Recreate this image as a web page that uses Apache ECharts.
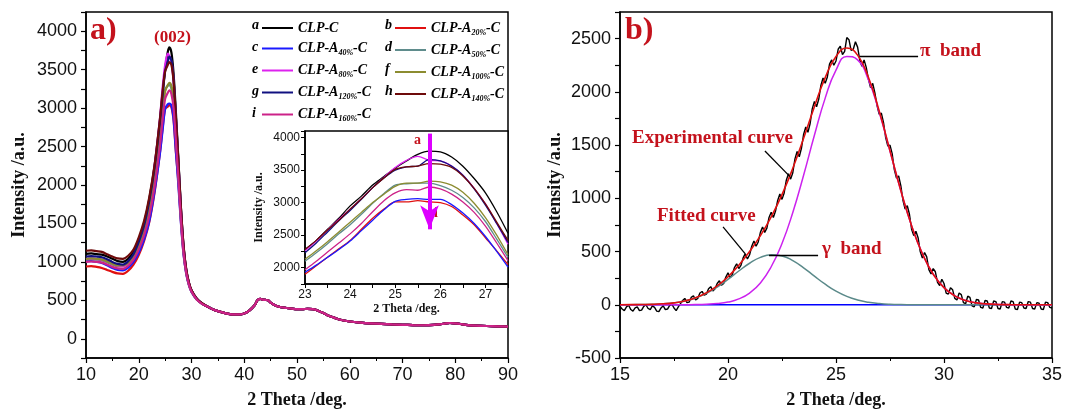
<!DOCTYPE html>
<html><head><meta charset="utf-8">
<script src="https://cdn.jsdelivr.net/npm/echarts@6/dist/echarts.min.js"></script>
<style>html,body{margin:0;padding:0;background:#fff}#c{width:1069px;height:414px}</style>
</head><body><div id="c"></div>
<script>
// ---------- Panel a data ----------
const seriesLetters = ['a','b','c','d','e','f','g','h','i'];
const seriesNames = ['CLP-C','CLP-A20%-C','CLP-A40%-C','CLP-A50%-C','CLP-A80%-C','CLP-A100%-C','CLP-A120%-C','CLP-A140%-C','CLP-A160%-C'];
const seriesColors = ['#000000','#e01010','#1a1aff','#5f8c8c','#dd22ee','#8c8c30','#101080','#6e0a0a','#cc2288'];

const xHead = [10,11,12,13,14,15,16,17,18,19,20,21,22,23,24,24.5,25,25.5,25.8,26.2,26.6,27,27.5,28,28.5,29,29.5,30,31,32];
const headA = [1105,1110,1100,1095,1070,1040,1010,1000,1040,1130,1290,1500,1820,2250,2830,3180,3500,3730,3790,3720,3450,3000,2350,1700,1200,900,730,630,520,460];
const headB = [940,945,935,920,895,870,850,845,885,965,1090,1270,1520,1900,2410,2720,2990,3020,3040,3010,2840,2460,2050,1520,1100,850,702,612,511,455];
const headC = [1010,1010,1000,985,955,920,895,890,925,1000,1120,1290,1530,1920,2400,2700,2990,3050,3060,3030,2860,2480,2010,1500,1090,845,700,610,510,454];
const headD = [1030,1035,1030,1020,995,965,945,945,985,1065,1200,1390,1670,2080,2620,2950,3240,3290,3300,3250,3070,2690,2150,1580,1140,870,712,618,514,456];
const headE = [1040,1045,1040,1030,1010,980,950,940,985,1080,1240,1460,1790,2250,2850,3250,3560,3710,3680,3600,3350,2900,2300,1660,1180,890,725,625,518,458];
const headF = [1040,1045,1040,1030,1005,975,955,955,990,1070,1210,1400,1680,2100,2640,2950,3220,3300,3330,3290,3120,2750,2200,1610,1150,875,715,620,515,457];
const headG = [1070,1075,1070,1060,1035,1000,975,965,1010,1100,1260,1470,1790,2220,2800,3150,3480,3600,3670,3620,3380,2930,2320,1680,1190,895,728,628,520,460];
const headH = [1145,1150,1140,1130,1100,1070,1045,1040,1080,1160,1320,1530,1840,2260,2850,3200,3480,3560,3600,3560,3350,2930,2330,1700,1210,905,735,632,522,462];
const headI = [1000,1005,1000,990,965,935,915,910,950,1030,1160,1340,1600,1980,2500,2830,3120,3200,3230,3180,3000,2620,2100,1550,1120,860,708,615,512,455];

const xTail = [33,34,35,36,37,38,39,40,41,42,42.5,43,43.5,44,44.5,45,46,47,48,49,50,51,52,53,54,55,56,57,58,60,62,64,66,68,70,72,74,76,77,78,79,80,81,82,84,86,88,90];
const tailVals = [420,385,360,340,325,318,318,330,370,440,500,520,510,505,500,470,430,410,400,392,385,385,390,385,365,335,300,275,250,225,210,200,195,188,182,178,176,180,188,198,205,200,192,182,172,166,162,158];

// inset (zoom of the (002) peak)
const insetX = [23,23.25,23.5,23.75,24,24.25,24.5,24.75,25,25.25,25.5,25.75,26,26.25,26.5,26.75,27,27.25,27.5];
const insA = [2280,2420,2590,2760,2950,3100,3270,3400,3530,3640,3740,3790,3780,3700,3560,3370,3150,2860,2530];
const insB = [1900,2030,2160,2290,2420,2590,2760,2900,3010,3010,3030,3010,3000,2940,2810,2660,2460,2260,2050];
const insC = [1930,2040,2160,2280,2410,2570,2730,2890,3020,3050,3060,3050,3050,2970,2840,2680,2480,2250,2010];
const insD = [2100,2230,2370,2520,2660,2820,2990,3140,3270,3290,3300,3300,3260,3190,3080,2920,2710,2440,2160];
const insE = [2260,2410,2580,2740,2900,3060,3230,3390,3540,3650,3710,3650,3640,3560,3420,3220,2980,2680,2360];
const insF = [2130,2260,2400,2550,2700,2850,3000,3130,3250,3300,3300,3330,3320,3270,3160,2990,2770,2500,2200];
const insG = [2230,2380,2550,2720,2880,3050,3230,3380,3500,3550,3560,3660,3640,3560,3420,3210,2960,2680,2390];
const insH = [2280,2420,2580,2730,2900,3060,3230,3380,3510,3550,3560,3600,3590,3540,3410,3220,2980,2700,2420];
const insI = [1970,2100,2240,2380,2520,2680,2860,3030,3150,3200,3190,3240,3210,3130,3010,2850,2640,2380,2110];

// ---------- Panel b data ----------
const bX = [15,15.5,16,16.5,17,17.5,18,18.5,19,19.5,20,20.5,21,21.5,22,22.5,23,23.5,24,24.5,25,25.5,26,26.5,27,27.5,28,28.5,29,29.5,30,30.5,31,31.5,32,32.5,33,33.5,34,34.5,35];
const piBand = [0,0,0,0,0,0,1,2,5,11,25,55,110,204,357,576,867,1217,1592,1941,2204,2333,2300,2113,1808,1442,1072,742,479,287,161,84,41,18,8,3,1,0,0,0,0];
const gammaBand = [0,1,2,4,9,18,35,64,107,166,238,317,390,445,469,459,415,347,269,193,128,79,45,24,12,5,2,1,0,0,0,0,0,0,0,0,0,0,0,0,0];
const fitted = [0,1,2,4,9,18,36,65,112,177,263,372,500,649,826,1035,1282,1564,1861,2134,2332,2412,2345,2137,1820,1447,1074,743,479,287,161,84,41,18,8,3,1,0,0,0,0];
const expX = [15,15.1,15.2,15.3,15.4,15.5,15.6,15.7,15.8,15.9,16,16.1,16.2,16.3,16.4,16.5,16.6,16.7,16.8,16.9,
  17,17.1,17.2,17.3,17.4,17.5,17.6,17.7,17.8,17.9,18,18.1,18.2,18.3,18.4,18.5,18.6,18.7,18.8,18.9,
  19,19.1,19.2,19.3,19.4,19.5,19.6,19.7,19.8,19.9,20,20.1,20.2,20.3,20.4,20.5,20.6,20.7,20.8,20.9,
  21,21.1,21.2,21.3,21.4,21.5,21.6,21.7,21.8,21.9,22,22.1,22.2,22.3,22.4,22.5,22.6,22.7,22.8,22.9,
  23,23.1,23.2,23.3,23.4,23.5,23.6,23.7,23.8,23.9,24,24.1,24.2,24.3,24.4,24.5,24.6,24.7,24.8,24.9,
  25,25.1,25.2,25.3,25.4,25.5,25.6,25.7,25.8,25.9,26,26.1,26.2,26.3,26.4,26.5,26.6,26.7,26.8,26.9,
  27,27.1,27.2,27.3,27.4,27.5,27.6,27.7,27.8,27.9,28,28.1,28.2,28.3,28.4,28.5,28.6,28.7,28.8,28.9,
  29,29.1,29.2,29.3,29.4,29.5,29.6,29.7,29.8,29.9,30,30.1,30.2,30.3,30.4,30.5,30.6,30.7,30.8,30.9,
  31,31.1,31.2,31.3,31.4,31.5,31.6,31.7,31.8,31.9,32,32.1,32.2,32.3,32.4,32.5,32.6,32.7,32.8,32.9,
  33,33.1,33.2,33.3,33.4,33.5,33.6,33.7,33.8,33.9,34,34.1,34.2,34.3,34.4,34.5,34.6,34.7,34.8,34.9,35];
const expY = [-15,-40,-55,-20,-5,-45,-60,-30,-20,-55,-50,-15,0,-35,-45,-10,-25,-60,-65,-30,
  -10,-45,-40,-5,5,-30,-55,-20,10,40,60,20,25,70,85,45,60,110,125,90,
  100,150,170,130,150,200,225,185,200,260,300,255,285,350,385,340,370,440,480,430,
  470,550,600,550,590,680,730,680,720,820,870,820,880,980,1040,990,1050,1170,1230,1180,
  1240,1370,1440,1390,1470,1600,1670,1620,1700,1840,1910,1860,1930,2060,2130,2080,2140,2260,2300,2250,
  2290,2400,2430,2350,2380,2510,2490,2390,2400,2470,2420,2300,2240,2300,2230,2120,2040,2080,1990,1870,
  1790,1800,1710,1570,1490,1500,1420,1270,1190,1210,1120,980,900,930,850,710,650,690,630,500,
  440,490,450,330,290,340,310,210,180,240,200,110,100,160,140,60,45,110,95,20,
  10,80,70,-10,-20,50,45,-25,-30,40,35,-30,-35,35,30,-35,-40,30,25,-25,
  -30,35,30,-40,-45,25,20,-30,-35,30,25,-35,-40,20,15,-40,-45,25,20,-25,-30];
const baseX = [15,35];
const baseY = [0,0];

// ---------- helpers ----------
const SERIF = '"Liberation Serif","DejaVu Serif",serif';
const SANS = '"Liberation Sans",Arial,sans-serif';
const RED = '#c4121c';
const zip = (xs, ys) => xs.map((x, i) => [x, ys[i]]);
const heads = [headA,headB,headC,headD,headE,headF,headG,headH,headI];
const insets = [insA,insB,insC,insD,insE,insF,insG,insH,insI];
const xMain = xHead.concat(xTail);

function yFmt(lo, hi) { return v => (v % 500 === 0 && v >= lo && v <= hi) ? String(v) : ''; }

function axisCommon(fs) {
  return {
    axisLine: { show: true, onZero: false, lineStyle: { color: '#000', width: 1.5 } },
    axisTick: { show: true, inside: false, length: 5, lineStyle: { color: '#000', width: 1.2 } },
    splitLine: { show: false },
    axisLabel: { color: '#111', fontFamily: SANS, fontSize: fs },
    nameTextStyle: { fontFamily: SERIF, fontWeight: 'bold', color: '#111', fontSize: fs }
  };
}

const series = [];
heads.forEach((h, k) => {
  series.push({ type: 'line', name: seriesNames[k], xAxisIndex: 0, yAxisIndex: 0, showSymbol: false, smooth: 0.3,
    data: zip(xMain, h.concat(tailVals)), lineStyle: { color: seriesColors[k], width: 2.2 }, itemStyle: { color: seriesColors[k] } });
});
insets.forEach((d, k) => {
  series.push({ type: 'line', name: seriesNames[k], xAxisIndex: 1, yAxisIndex: 1, showSymbol: false, smooth: 0.3,
    data: zip(insetX, d), lineStyle: { color: seriesColors[k], width: 1.3 }, itemStyle: { color: seriesColors[k] },
    markLine: k === 0 ? { silent: true, symbol: ['none', 'arrow'], symbolSize: [14, 24],
      lineStyle: { color: '#dd00ff', width: 4, type: 'solid' }, label: { show: false },
      data: [[{ coord: [25.76, 4060] }, { coord: [25.76, 2590] }]] } : undefined });
});
series.push({ type: 'line', name: 'base', xAxisIndex: 2, yAxisIndex: 2, showSymbol: false, data: zip(baseX, baseY), lineStyle: { color: '#0000ff', width: 1.5 } });
series.push({ type: 'line', name: 'exp', xAxisIndex: 2, yAxisIndex: 2, showSymbol: false, data: zip(expX, expY), lineStyle: { color: '#000', width: 1.4 },
  markLine: { silent: true, symbol: 'none', label: { show: false }, lineStyle: { color: '#000', width: 1.3, type: 'solid' },
    data: [
      [{ coord: [21.71, 1444] }, { coord: [22.87, 1204] }],
      [{ coord: [19.77, 731] }, { coord: [20.79, 481] }],
      [{ coord: [21.9, 463] }, { coord: [24.17, 463] }],
      [{ coord: [26.11, 2333] }, { coord: [28.8, 2333] }]
    ] } });
series.push({ type: 'line', name: 'gamma', xAxisIndex: 2, yAxisIndex: 2, showSymbol: false, smooth: true, data: zip(bX, gammaBand), lineStyle: { color: '#5b8a8a', width: 1.5 } });
series.push({ type: 'line', name: 'pi', xAxisIndex: 2, yAxisIndex: 2, showSymbol: false, smooth: true, data: zip(bX, piBand), lineStyle: { color: '#cc22ee', width: 1.5 } });
series.push({ type: 'line', name: 'fit', xAxisIndex: 2, yAxisIndex: 2, showSymbol: false, smooth: true, data: zip(bX, fitted), lineStyle: { color: '#e01010', width: 1.6 } });

function legendFmt(name) {
  const m = name.match(/^CLP-A(\d+%)-C$/);
  if (!m) return '{n|' + name + '}';
  return '{n|CLP-A}{s|' + m[1] + '}{n|-C}';
}
const legendText = {
  rich: {
    n: { fontFamily: SERIF, fontStyle: 'italic', fontWeight: 'bold', fontSize: 14, color: '#000' },
    s: { fontFamily: SERIF, fontStyle: 'italic', fontWeight: 'bold', fontSize: 8, color: '#000', padding: [9, 0, 0, 0] }
  }
};
function mkLegend(names, left) {
  return { data: names, orient: 'vertical', left: left, top: 21, icon: 'rect', itemWidth: 31, itemHeight: 2, itemGap: 6.5,
    selectedMode: false, formatter: legendFmt, textStyle: legendText, padding: 0 };
}

const letterGraphics = seriesLetters.map((L, k) => {
  const col = k % 2; const row = Math.floor(k / 2);
  return { type: 'text', left: col === 0 ? 252 : 385, top: 18 + row * 22,
    style: { text: L, font: 'italic bold 14px ' + SERIF, fill: '#000' } };
});

const option = {
  animation: false,
  backgroundColor: '#fff',
  grid: [
    { left: 86, top: 12, width: 422, height: 350, show: true, borderColor: '#000', borderWidth: 1.5, backgroundColor: 'transparent' },
    { left: 305, top: 131, width: 203, height: 153, show: true, borderColor: '#000', borderWidth: 1.5, backgroundColor: '#fff' },
    { left: 620, top: 12, width: 432, height: 350, show: true, borderColor: '#000', borderWidth: 1.5, backgroundColor: 'transparent' }
  ],
  xAxis: [
    Object.assign(axisCommon(18), { type: 'value', gridIndex: 0, min: 10, max: 90, interval: 10,
      minorTick: { show: true, splitNumber: 2, length: 3, lineStyle: { color: '#000' } },
      name: '2 Theta /deg.', nameLocation: 'middle', nameGap: 33 }),
    Object.assign(axisCommon(12), { type: 'value', gridIndex: 1, min: 23, max: 27.5, interval: 0.5,
      axisTick: { show: true, length: 4, lineStyle: { color: '#000' } },
      axisLabel: { color: '#111', fontFamily: SANS, fontSize: 12, margin: 5, formatter: v => (Math.abs(v - Math.round(v)) < 1e-6 ? String(Math.round(v)) : '') },
      name: '2 Theta /deg.', nameLocation: 'middle', nameGap: 19 }),
    Object.assign(axisCommon(18), { type: 'value', gridIndex: 2, min: 15, max: 35, interval: 5,
      minorTick: { show: true, splitNumber: 2, length: 3, lineStyle: { color: '#000' } },
      name: '2 Theta /deg.', nameLocation: 'middle', nameGap: 33 })
  ],
  yAxis: [
    Object.assign(axisCommon(18), { type: 'value', gridIndex: 0, min: -250, max: 4250, interval: 250,
      axisLabel: { color: '#111', fontFamily: SANS, fontSize: 18, margin: 9, formatter: yFmt(0, 4000) },
      name: 'Intensity /a.u.', nameLocation: 'middle', nameGap: 58 }),
    Object.assign(axisCommon(12), { type: 'value', gridIndex: 1, min: 1750, max: 4100, interval: 250,
      axisTick: { show: true, length: 4, lineStyle: { color: '#000' } },
      axisLabel: { color: '#111', fontFamily: SANS, fontSize: 12, margin: 5, formatter: yFmt(2000, 4000) },
      name: 'Intensity /a.u.', nameLocation: 'middle', nameGap: 40 }),
    Object.assign(axisCommon(18), { type: 'value', gridIndex: 2, min: -500, max: 2750, interval: 250,
      axisLabel: { color: '#111', fontFamily: SANS, fontSize: 18, margin: 9, formatter: yFmt(-500, 2500) },
      name: 'Intensity /a.u.', nameLocation: 'middle', nameGap: 56 })
  ],
  legend: [
    mkLegend(['CLP-C','CLP-A40%-C','CLP-A80%-C','CLP-A120%-C','CLP-A160%-C'], 262),
    mkLegend(['CLP-A20%-C','CLP-A50%-C','CLP-A100%-C','CLP-A140%-C'], 395)
  ],
  graphic: letterGraphics.concat([
    { type: 'text', left: 90, top: 15, style: { text: 'a)', font: 'bold 32px ' + SERIF, fill: RED } },
    { type: 'text', left: 154, top: 29, style: { text: '(002)', font: 'bold 17px ' + SERIF, fill: RED } },
    { type: 'text', left: 414, top: 133, style: { text: 'a', font: 'bold 14px ' + SERIF, fill: RED } },
    { type: 'text', left: 434, top: 206, style: { text: 'i', font: 'bold 14px ' + SERIF, fill: RED } },
    { type: 'text', left: 625, top: 15, style: { text: 'b)', font: 'bold 32px ' + SERIF, fill: RED } },
    { type: 'text', left: 632, top: 129, style: { text: 'Experimental curve', font: 'bold 19px ' + SERIF, fill: RED } },
    { type: 'text', left: 657, top: 207, style: { text: 'Fitted curve', font: 'bold 19px ' + SERIF, fill: RED } },
    { type: 'text', left: 822, top: 240, style: { text: 'γ  band', font: 'bold 19px ' + SERIF, fill: RED } },
    { type: 'text', left: 920, top: 42, style: { text: 'π  band', font: 'bold 19px ' + SERIF, fill: RED } }
  ]),
  series: series
};
const chart = echarts.init(document.getElementById('c'), null, { renderer: 'canvas' });
chart.setOption(option);
</script></body></html>
